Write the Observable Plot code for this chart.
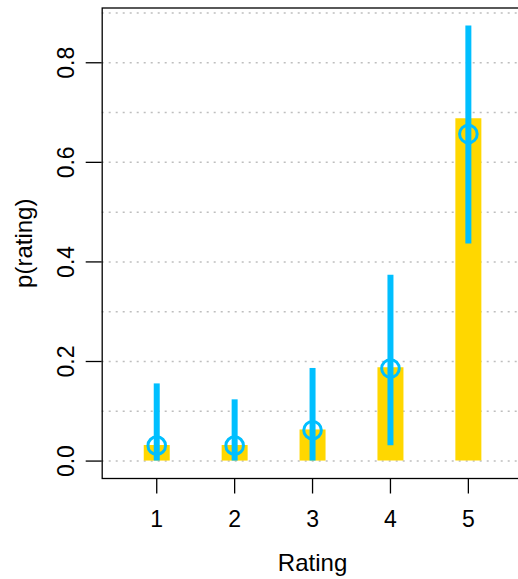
<!DOCTYPE html>
<html>
<head>
<meta charset="utf-8">
<script src="https://cdn.jsdelivr.net/npm/d3@7"></script>
<script src="https://cdn.jsdelivr.net/npm/@observablehq/plot@0.6"></script>
<style>
  html, body { margin: 0; padding: 0; background: white; }
  #chart { width: 518px; height: 579px; overflow: hidden; }
</style>
</head>
<body>
<div id="chart"></div>
<script>
// Data
const ratings = [1, 2, 3, 4, 5];
const proportions = [0.03125, 0.03125, 0.0625, 0.1875, 0.6875];
const modes = [0.031, 0.031, 0.062, 0.186, 0.657];
const hdiLow = [0, 0, 0, 0.031, 0.436];
const hdiHigh = [0.155, 0.123, 0.186, 0.373, 0.874];
const yTicks = [0, 0.2, 0.4, 0.6, 0.8];
const gridValues = [0, 0.1, 0.2, 0.3, 0.4, 0.5, 0.6, 0.7, 0.8, 0.9];
const xLabel = "Rating";
const yLabel = "p(rating)";

const data = ratings.map((r, i) => ({
  rating: r, p: proportions[i], mode: modes[i], lo: hdiLow[i], hi: hdiHigh[i]
}));

const chart = Plot.plot({
  width: 518,
  height: 579,
  marginLeft: 101.7,
  marginRight: -4.4,
  marginTop: 7.5,
  marginBottom: 101,
  x: {domain: [0.3, 5.7]},
  y: {domain: [-0.035, 0.91]},
  style: {fontFamily: "'Liberation Sans', Arial, sans-serif", fontSize: "23px", color: "black", background: "white"},
  marks: [
    Plot.ruleY(gridValues, {y: d => d, stroke: "#bebebe", strokeWidth: 1.5, strokeDasharray: "2,5"}),
    Plot.ruleX(data, {x: "rating", y: "p", stroke: "#FFD700", strokeWidth: 26}),
    Plot.ruleX(data, {x: "rating", y1: "lo", y2: "hi", stroke: "#00BFFF", strokeWidth: 6}),
    Plot.dot(data, {x: "rating", y: "mode", r: 8.8, stroke: "#00BFFF", strokeWidth: 3, fill: "none"}),
    Plot.frame({stroke: "black", strokeWidth: 1.3}),
    Plot.axisX({ticks: ratings, tickSize: 15.5, tickPadding: 17, tickFormat: d => String(d), label: null, fontSize: 23, strokeWidth: 1.3}),
    Plot.axisY({ticks: yTicks, tickSize: 16, tickPadding: 12.4, tickRotate: -90, tickFormat: d => d.toFixed(1), label: null, fontSize: 23, strokeWidth: 1.3}),
    Plot.text([xLabel], {frameAnchor: "bottom", dy: 92, lineAnchor: "bottom", textAnchor: "middle", fontSize: 24, fill: "black"}),
    Plot.text([yLabel], {frameAnchor: "left", dx: -70, rotate: -90, lineAnchor: "bottom", textAnchor: "middle", fontSize: 24, fill: "black"})
  ]
});
document.getElementById("chart").appendChild(chart);
</script>
</body>
</html>
